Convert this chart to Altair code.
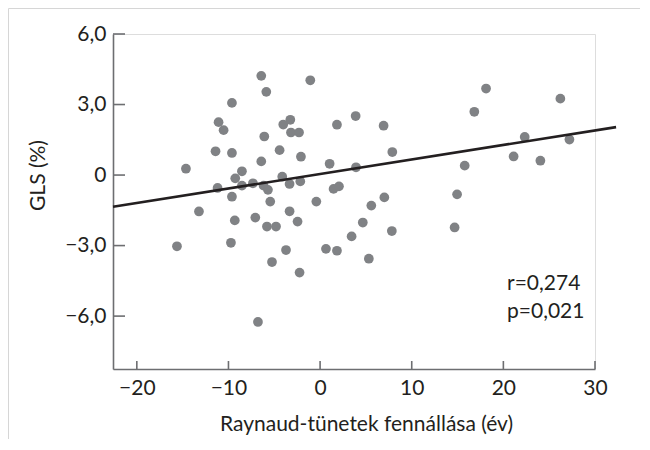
import altair as alt
import pandas as pd

# --- data ---
raynaud_years = [-6.42, -1.07, -5.87, -9.62, -11.08, -10.53, -4.02, -3.25, -3.18, -2.30,
                 -6.09, 3.88, 1.84, -11.41, -9.62, -4.42, -6.42, -2.09, 1.04, 3.92,
                 -14.64, -8.53, -9.26, -4.13, -11.19, -8.53, -7.33, -6.17, -5.69, -3.33,
                 -2.16, 1.47, 2.06, -9.62, -5.44, -0.41, -13.22, -3.33, 5.59, -9.31,
                 -7.07, -2.46, 4.66,
                 -5.80, -4.81, 3.44, -15.62, -9.73, -3.72, 0.64, 1.84, -5.25, -2.24, 5.32, -6.78,
                 6.93, 7.88, 18.11, 16.83, 26.22, 22.33, 27.21, 21.12, 24.04, 15.78, 14.95, 7.01, 7.83, 14.68]
gls_values = [4.22, 4.03, 3.54, 3.07, 2.25, 1.91, 2.15, 2.35, 1.81, 1.81,
              1.64, 2.51, 2.14, 1.01, 0.94, 1.06, 0.58, 0.78, 0.48, 0.33,
              0.27, 0.16, -0.14, -0.07, -0.55, -0.45, -0.35, -0.45, -0.63, -0.38,
              -0.27, -0.59, -0.48, -0.92, -1.13, -1.13, -1.55, -1.54, -1.30, -1.93,
              -1.81, -1.98, -2.02,
              -2.19, -2.19, -2.61, -3.03, -2.88, -3.19, -3.14, -3.22, -3.70, -4.15, -3.56, -6.25,
              2.10, 0.98, 3.68, 2.69, 3.25, 1.62, 1.51, 0.79, 0.61, 0.40, -0.82, -0.95, -2.38, -2.23]

fit_x = [-22.6, 32.3]
fit_y = [-1.35, 2.04]

x_ticks = [-20, -10, 0, 10, 20, 30]
y_ticks = [6, 3, 0, -3, -6]

stats_text = ["r=0,274", "p=0,021"]
stats_x = [20.4, 20.4]
stats_y = [-4.89, -6.09]

# --- style ---
FONT = "Lato"
TXT = "#231f20"
AX = "#6d6e71"
DOT = "#808285"
W, H = 482, 335

xscale = alt.Scale(domain=[-22.6, 30], nice=False, zero=False)
yscale = alt.Scale(domain=[-8.25, 6], nice=False, zero=False)

pts = pd.DataFrame({"x": raynaud_years, "y": gls_values})
fit = pd.DataFrame({"x": fit_x, "y": fit_y})
xt = pd.DataFrame({"v": x_ticks})
yt = pd.DataFrame({"v": y_ticks})
st = pd.DataFrame({"t": stats_text, "x": stats_x, "y": stats_y})

x_axis = alt.Axis(
    values=x_ticks, format="d", grid=False, ticks=False, tickSize=0,
    domainColor=AX, domainWidth=1.6,
    labelFont=FONT, labelFontSize=21, labelColor=TXT, labelPadding=8,
    labelFlush=False, labelOverlap=False,
    title="Raynaud-tünetek fennállása (év)",
    titleFont=FONT, titleFontSize=21, titleFontWeight="normal", titleColor=TXT,
    titleX=253, titleY=61, titleAlign="center", titleBaseline="alphabetic",
)
y_axis = alt.Axis(
    values=y_ticks, grid=False, ticks=False, tickSize=0,
    labelExpr="datum.value == 0 ? '0' : replace(format(datum.value, '.1f'), '.', ',')",
    domainColor=AX, domainWidth=1.6,
    labelFont=FONT, labelFontSize=21, labelColor=TXT, labelPadding=7,
    labelFlush=False, labelOverlap=False,
    title="GLS (%)",
    titleFont=FONT, titleFontSize=21, titleFontWeight="normal", titleColor=TXT,
    titleX=-75, titleY=141, titleAngle=270, titleAlign="center", titleBaseline="middle",
)

points = alt.Chart(pts).mark_circle(size=95, color=DOT, opacity=1).encode(
    x=alt.X("x:Q", scale=xscale, axis=x_axis),
    y=alt.Y("y:Q", scale=yscale, axis=y_axis),
)

line = alt.Chart(fit).mark_line(color=TXT, strokeWidth=2.6).encode(
    x=alt.X("x:Q", scale=xscale),
    y=alt.Y("y:Q", scale=yscale),
)

xtick_marks = alt.Chart(xt).mark_rule(color=AX, strokeWidth=1.6).encode(
    x=alt.X("v:Q", scale=xscale),
    y=alt.value(H),
    y2=alt.value(H - 8),
)
ytick_marks = alt.Chart(yt).mark_rule(color=AX, strokeWidth=1.6).encode(
    y=alt.Y("v:Q", scale=yscale),
    x=alt.value(0),
    x2=alt.value(12),
)

stats = alt.Chart(st).mark_text(
    align="left", baseline="alphabetic", font=FONT, fontSize=21, color=TXT
).encode(
    x=alt.X("x:Q", scale=xscale),
    y=alt.Y("y:Q", scale=yscale),
    text="t:N",
)

frame = alt.Data(values=[{}])
border_top = alt.Chart(frame).mark_rule(color="#d6d6d6", strokeWidth=1).encode(
    x=alt.value(-104.5), x2=alt.value(W + 45), y=alt.value(-25.5)
)
border_left = alt.Chart(frame).mark_rule(color="#d6d6d6", strokeWidth=1).encode(
    x=alt.value(-104.5), y=alt.value(-25.5), y2=alt.value(H + 70)
)

chart = alt.layer(
    border_top, border_left, points, line, xtick_marks, ytick_marks, stats
).properties(
    width=W, height=H,
    autosize=alt.AutoSizeParams(type="none"),
    padding={"left": 105, "top": 26, "right": 45, "bottom": 70},
).configure_view(stroke=None).configure(background="white")

chart.save("out.html", embed_options={"renderer": "svg", "actions": False})
